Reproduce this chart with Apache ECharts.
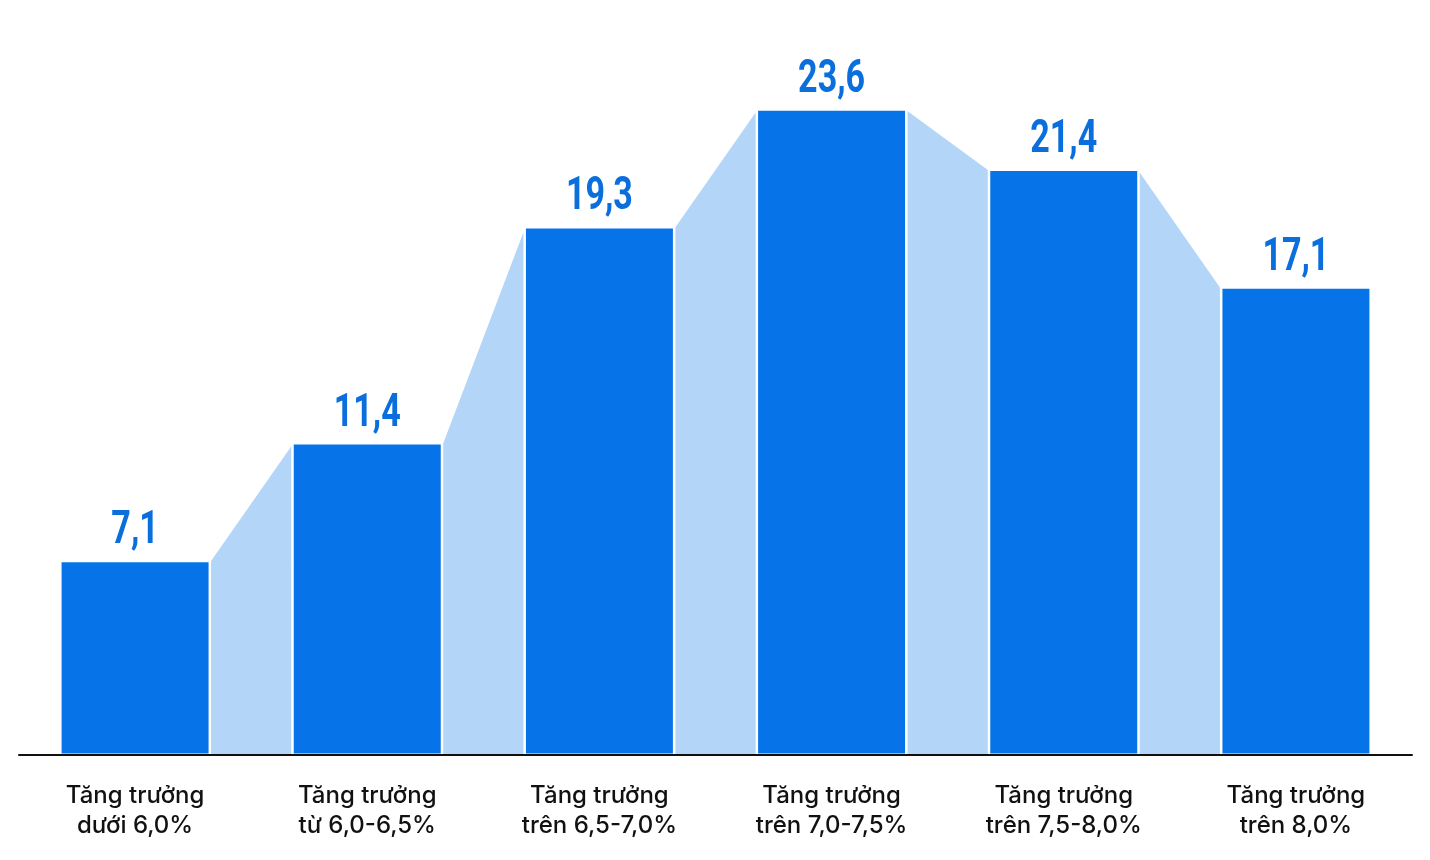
<!DOCTYPE html>
<html>
<head>
<meta charset="utf-8">
<script src="https://cdn.jsdelivr.net/npm/echarts@6/dist/echarts.min.js"></script>
<style>
  html, body { margin: 0; padding: 0; background: #fff; }
  #chart { width: 1430px; height: 860px; }
</style>
</head>
<body>
<div id="chart"></div>
<script>
var categories = [
    'Tăng trưởng\ndưới 6,0%',
    'Tăng trưởng\ntừ 6,0-6,5%',
    'Tăng trưởng\ntrên 6,5-7,0%',
    'Tăng trưởng\ntrên 7,0-7,5%',
    'Tăng trưởng\ntrên 7,5-8,0%',
    'Tăng trưởng\ntrên 8,0%'
];
var values = [7.1, 11.4, 19.3, 23.6, 21.4, 17.1];

var barRatio = 0.646;

// pairs of neighbouring bars for the light connecting shapes
var links = [];
for (var i = 0; i < values.length - 1; i++) {
    links.push([i, values[i], values[i + 1]]);
}
var labelData = [];
for (var j = 0; j < values.length; j++) {
    labelData.push([j, values[j]]);
}

var myChart = echarts.init(document.getElementById('chart'));

option = {
    animation: false,
    grid: { left: 19, right: 18, top: 71, bottom: 105 },
    xAxis: {
        type: 'category',
        data: categories,
        axisTick: { show: false },
        axisLine: { lineStyle: { color: '#111', width: 2 } },
        axisLabel: {
            margin: 26,
            color: '#111',
            fontFamily: 'Inter',
            fontWeight: 500,
            fontSize: 24,
            lineHeight: 30
        },
        z: 10
    },
    yAxis: {
        type: 'value',
        min: 0,
        max: 25,
        show: false,
        splitLine: { show: false }
    },
    series: [
        {
            type: 'custom',
            data: links,
            z: 1,
            silent: true,
            renderItem: function (params, api) {
                var idx = api.value(0);
                var half = api.size([1, 0])[0] * barRatio / 2;
                var a = api.coord([idx, api.value(1)]);
                var b = api.coord([idx + 1, api.value(2)]);
                var base = api.coord([idx, 0])[1];
                return {
                    type: 'polygon',
                    shape: {
                        points: [
                            [a[0] + half, a[1]],
                            [b[0] - half, b[1]],
                            [b[0] - half, base],
                            [a[0] + half, base]
                        ]
                    },
                    style: { fill: '#b3d5f7', stroke: '#fff', lineWidth: 2 }
                };
            }
        },
        {
            type: 'bar',
            data: values,
            z: 2,
            barWidth: (barRatio * 100) + '%',
            itemStyle: { color: '#0673e8', borderColor: '#fff', borderWidth: 1.5 }
        },
        {
            // condensed value labels above bars
            type: 'custom',
            data: labelData,
            z: 3,
            silent: true,
            renderItem: function (params, api) {
                var p = api.coord([api.value(0), api.value(1)]);
                return {
                    type: 'text',
                    x: p[0],
                    y: p[1] - 6,
                    scaleX: 0.74,
                    style: {
                        x: 0,
                        y: 0,
                        text: api.value(1).toFixed(1).replace('.', ','),
                        fill: '#0a6fdc',
                        font: 'bold 46px Roboto',
                        align: 'center',
                        verticalAlign: 'bottom'
                    }
                };
            }
        }
    ]
};

myChart.setOption(option);
window.addEventListener('resize', function () {
    myChart.resize();
});
</script>
</body>
</html>
